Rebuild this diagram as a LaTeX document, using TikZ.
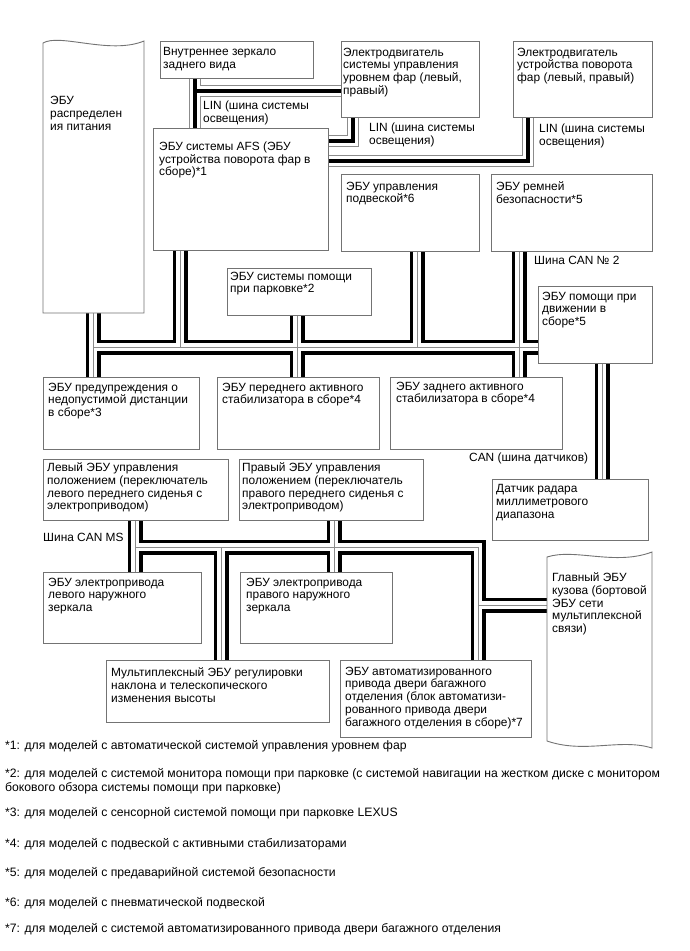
\documentclass[tikz,border=0pt]{standalone}
\usepackage{fontspec}
\setmainfont{Liberation Sans}
\begin{document}
\begin{tikzpicture}[x=1pt,y=-1pt,
  box/.style={draw=black!55, line width=0.9, fill=white, inner sep=0},
  txt/.style={anchor=north west, inner sep=0, align=left, font=\fontsize{11.9}{12.8}\selectfont},
  note/.style={anchor=north west, inner sep=0, align=left, font=\fontsize{12.2}{14}\selectfont},
  canA/.style={draw=black, line width=15, line join=miter},
  canB/.style={draw=white, line width=8, line join=miter},
  canC/.style={draw=black!45, line width=0.7, line join=miter},
  linA/.style={draw=black!45, line width=12, line join=miter},
  linB/.style={draw=white, line width=10.4, line join=miter},
  linC/.style={draw=black, line width=3.5, line join=miter}]
\newcommand\ecu[8]{%
  \node[box, minimum width=#4-#2, minimum height=#5-#3, anchor=north west] (#1) at (#2,#3) {};
  \node[txt] (#1t) at (#6,#7) {#8};}
\useasboundingbox[fill=white] (0,0) rectangle (689,951);
% invisible frames for the two banner-shaped units
\node[minimum width=101, minimum height=271, anchor=north west, inner sep=0] (dist) at (43,42) {};
\node[minimum width=105, minimum height=192, anchor=north west, inner sep=0] (body) at (547,553) {};
% junction coordinates
\coordinate (l1) at (195,91);
\coordinate (l2) at (353,141);
\coordinate (l3) at (528,161);
\coordinate (j1) at (93,347);
\coordinate (j2) at (180,347);
\coordinate (j3) at (297,347);
\coordinate (j4) at (417,347);
\coordinate (j5) at (519,347);
\coordinate (xs) at (602,420);
\coordinate (m1) at (135,547);
\coordinate (m2) at (221,547);
\coordinate (m3) at (334,547);
\coordinate (m4) at (478,547);
\coordinate (m5) at (478,605);
% unit frames (the visible boxes are drawn later over the bus ends)
\begin{scope}[box/.append style={draw=none, fill=none}]
\ecu{mirror}{160}{41}{313}{78}{0}{0}{}
\ecu{level}{341}{41}{479}{117}{0}{0}{}
\ecu{swivel}{513}{41}{652}{117}{0}{0}{}
\ecu{afs}{153}{128}{328}{250}{0}{0}{}
\ecu{susp}{341}{174}{479}{251}{0}{0}{}
\ecu{belt}{491}{174}{652}{251}{0}{0}{}
\ecu{park}{227}{268}{371}{315}{0}{0}{}
\ecu{drive}{538}{286}{652}{363}{0}{0}{}
\ecu{dw}{43}{377}{199}{449}{0}{0}{}
\ecu{fstab}{217}{377}{379}{449}{0}{0}{}
\ecu{rstab}{390}{377}{562}{449}{0}{0}{}
\ecu{radar}{492}{479}{648}{540}{0}{0}{}
\ecu{lseat}{43}{459}{228}{520}{0}{0}{}
\ecu{rseat}{239}{459}{423}{520}{0}{0}{}
\ecu{lmir}{43}{572}{201}{643}{0}{0}{}
\ecu{rmir}{240}{572}{392}{643}{0}{0}{}
\ecu{multi}{106}{660}{329}{722}{0}{0}{}
\ecu{trunk}{340}{660}{531}{737}{0}{0}{}
\end{scope}
% LIN buses
\foreach \st in {linA,linB,linC}{
  \draw[\st] (mirror.south -| l1) -- (afs.north -| l1)
    (l1) -- (level.west |- l1)
    (level.south -| l2) -- (l2) -- (afs.east |- l2)
    (swivel.south -| l3) -- (l3) -- (afs.east |- l3);
}
% CAN buses
\foreach \st in {canA,canB,canC}{
  \draw[\st] (dist.south -| j1) -- (dw.north -| j1)
    (afs.south -| j2) -- (j2)
    (park.south -| j3) -- (fstab.north -| j3)
    (susp.south -| j4) -- (j4)
    (belt.south -| j5) -- (rstab.north -| j5)
    (j1) -- (drive.west |- j1)
    (drive.south -| xs) -- (radar.north -| xs)
    (lseat.south -| m1) -- (lmir.north -| m1)
    (rseat.south -| m3) -- (rmir.north -| m3)
    (m1) -- (m4) -- (trunk.north -| m4)
    (m2) -- (multi.north -| m2)
    (m5) -- (body.west |- m5);
}
% banner-shaped units
\draw[box] (43,313) -- (43,43) .. controls (60,33) and (110,55) .. (144,41) -- (144,313) -- cycle;
\draw[box] (547,557) .. controls (575,548) and (615,566) .. (652,552) -- (652,748)
   .. controls (620,738) and (585,754) .. (547,741) -- cycle;
\node[txt] (distt) at (50,96) {ЭБУ\\распределен\\ия питания};
\node[txt] (bodyt) at (552,572.5) {Главный ЭБУ\\кузова (бортовой\\ЭБУ сети\\мультиплексной\\связи)};
% boxes with text
\ecu{mirror}{160}{41}{313}{78}{163}{47.5}{Внутреннее зеркало\\заднего вида}
\ecu{level}{341}{41}{479}{117}{343}{47.5}{Электродвигатель\\системы управления\\уровнем фар (левый,\\правый)}
\ecu{swivel}{513}{41}{652}{117}{517}{47.5}{Электродвигатель\\устройства поворота\\фар (левый, правый)}
\ecu{afs}{153}{128}{328}{250}{159}{141.5}{ЭБУ системы AFS (ЭБУ\\устройства поворота фар в\\сборе)*1}
\ecu{susp}{341}{174}{479}{251}{346}{181.5}{ЭБУ управления\\подвеской*6}
\ecu{belt}{491}{174}{652}{251}{496}{181.5}{ЭБУ ремней\\безопасности*5}
\ecu{park}{227}{268}{371}{315}{230}{271.5}{ЭБУ системы помощи\\при парковке*2}
\ecu{drive}{538}{286}{652}{363}{542}{291.5}{ЭБУ помощи при\\движении в\\сборе*5}
\ecu{dw}{43}{377}{199}{449}{48}{382.5}{ЭБУ предупреждения о\\недопустимой дистанции\\в сборе*3}
\ecu{fstab}{217}{377}{379}{449}{222}{382.5}{ЭБУ переднего активного\\стабилизатора в сборе*4}
\ecu{rstab}{390}{377}{562}{449}{396}{381.5}{ЭБУ заднего активного\\стабилизатора в сборе*4}
\ecu{radar}{492}{479}{648}{540}{496}{484.5}{Датчик радара\\миллиметрового\\диапазона}
\ecu{lseat}{43}{459}{228}{520}{47}{462.5}{Левый ЭБУ управления\\положением (переключатель\\левого переднего сиденья с\\электроприводом)}
\ecu{rseat}{239}{459}{423}{520}{242}{462.5}{Правый ЭБУ управления\\положением (переключатель\\правого переднего сиденья с\\электроприводом)}
\ecu{lmir}{43}{572}{201}{643}{48}{577.5}{ЭБУ электропривода\\левого наружного\\зеркала}
\ecu{rmir}{240}{572}{392}{643}{246}{577.5}{ЭБУ электропривода\\правого наружного\\зеркала}
\ecu{multi}{106}{660}{329}{722}{111}{667.5}{Мультиплексный ЭБУ регулировки\\наклона и телескопического\\изменения высоты}
\ecu{trunk}{340}{660}{531}{737}{345}{666.5}{ЭБУ автоматизированного\\привода двери багажного\\отделения (блок автоматизи-\\рованного привода двери\\багажного отделения в сборе)*7}
% bus labels
\node[txt] (lin1) at (203,100.5) {LIN (шина системы\\освещения)};
\node[txt] (lin2) at (369,123) {LIN (шина системы\\освещения)};
\node[txt] (lin3) at (539,123.5) {LIN (шина системы\\освещения)};
\node[txt] (can2) at (534,256) {Шина CAN № 2};
\node[txt] (cans) at (469,453) {CAN (шина датчиков)};
\node[txt] (canms) at (43,533) {Шина CAN MS};
% footnotes
\node[note] (n1) at (5,740) {*1: для моделей с автоматической системой управления уровнем фар};
\node[note] (n2) at (5,768) {*2: для моделей с системой монитора помощи при парковке (с системой навигации на жестком диске с монитором\\бокового обзора системы помощи при парковке)};
\node[note] (n3) at (5,807) {*3: для моделей с сенсорной системой помощи при парковке LEXUS};
\node[note] (n4) at (5,838) {*4: для моделей с подвеской с активными стабилизаторами};
\node[note] (n5) at (5,867) {*5: для моделей с предаварийной системой безопасности};
\node[note] (n6) at (5,897) {*6: для моделей с пневматической подвеской};
\node[note] (n7) at (5,923) {*7: для моделей с системой автоматизированного привода двери багажного отделения};
\end{tikzpicture}
\end{document}
